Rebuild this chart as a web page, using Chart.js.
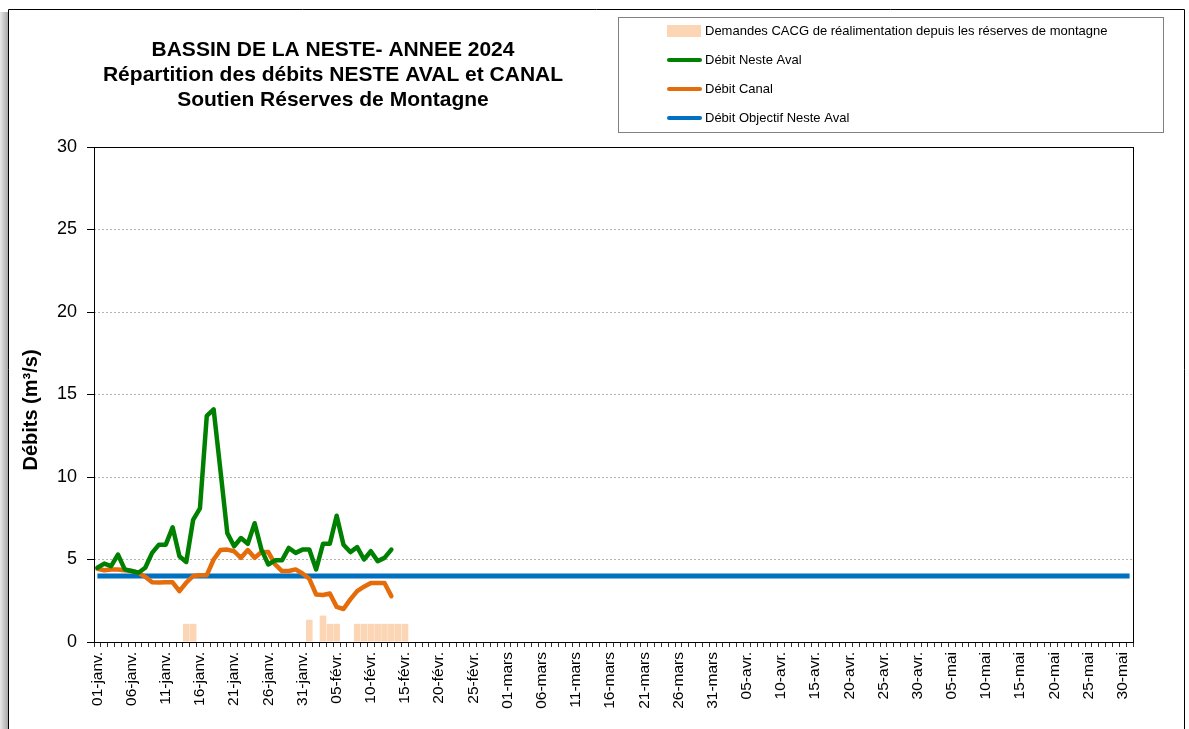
<!DOCTYPE html>
<html>
<head>
<meta charset="utf-8">
<script src="https://cdn.jsdelivr.net/npm/chart.js@4.4.1/dist/chart.umd.min.js"></script>
<style>
  html, body { margin: 0; padding: 0; background: #fff; }
  canvas { display: block; }
</style>
</head>
<body>
<canvas id="chart" width="1189" height="729"></canvas>
<script>
// months of the hydrological window shown (2024 is a leap year)
const months = ['janv.', 'févr.', 'mars', 'avr.', 'mai'];
const monthDays = [31, 29, 31, 30, 31];

const tickLabels = [
  '01-janv.', '06-janv.', '11-janv.', '16-janv.', '21-janv.', '26-janv.', '31-janv.',
  '05-févr.', '10-févr.', '15-févr.', '20-févr.', '25-févr.',
  '01-mars', '06-mars', '11-mars', '16-mars', '21-mars', '26-mars', '31-mars',
  '05-avr.', '10-avr.', '15-avr.', '20-avr.', '25-avr.', '30-avr.',
  '05-mai', '10-mai', '15-mai', '20-mai', '25-mai', '30-mai'
];

const debitNesteAval = [
  4.5, 4.75, 4.6, 5.3, 4.4, 4.3, 4.2, 4.5, 5.4, 5.9,
  5.9, 6.95, 5.2, 4.85, 7.4, 8.1, 13.7, 14.1, 10.4, 6.6,
  5.8, 6.3, 5.95, 7.2, 5.6, 4.7, 4.95, 4.95, 5.7, 5.4,
  5.6, 5.6, 4.4, 5.95, 5.95, 7.65, 5.9, 5.45, 5.75, 5.0,
  5.5, 4.9, 5.1, 5.6
];

const debitCanal = [
  4.44, 4.35, 4.4, 4.4, 4.35, 4.3, 4.2, 3.95, 3.62, 3.6,
  3.62, 3.62, 3.08, 3.6, 4.0, 4.05, 4.05, 5.0, 5.57, 5.6,
  5.5, 5.1, 5.57, 5.1, 5.45, 5.45, 4.7, 4.3, 4.3, 4.4,
  4.15, 3.83, 2.88, 2.85, 2.94, 2.13, 2.0, 2.58, 3.08, 3.35,
  3.58, 3.58, 3.58, 2.78
];

const demandesCACG = [
  null, null, null, null, null, null, null, null, null, null,
  null, null, null, 1.1, 1.1, null, null, null, null, null,
  null, null, null, null, null, null, null, null, null, null,
  null, 1.35, null, 1.6, 1.1, 1.1, null, null, 1.1, 1.1,
  1.1, 1.1, 1.1, 1.1, 1.1, 1.1
];

const objectifDays = ['01-janv.', '31-mai'];
const objectifValues = [4, 4];

const titleLines = [
  'BASSIN DE LA NESTE- ANNEE 2024',
  'Répartition des débits NESTE AVAL et CANAL',
  'Soutien Réserves de Montagne'
];

// build the daily category labels
const categories = [];
months.forEach((m, mi) => {
  for (let d = 1; d <= monthDays[mi]; d++) {
    categories.push(String(d).padStart(2, '0') + '-' + m);
  }
});

const FONT = "'Liberation Sans', Arial, sans-serif";
Chart.defaults.font.family = FONT;
Chart.defaults.color = '#000';

const decor = {
  id: 'decor',
  beforeDraw(chart) {
    const ctx = chart.ctx;
    ctx.save();
    ctx.fillStyle = '#fff';
    ctx.fillRect(0, 0, chart.width, chart.height);
    // left shadow + outer frame
    const g = ctx.createLinearGradient(0, 0, 8, 0);
    g.addColorStop(0, '#e8e8e8');
    g.addColorStop(1, '#a8a8a8');
    ctx.fillStyle = g;
    ctx.fillRect(0, 12, 8, chart.height - 12);
    ctx.strokeStyle = '#000';
    ctx.lineWidth = 1;
    ctx.beginPath();
    ctx.moveTo(8.5, chart.height);
    ctx.lineTo(8.5, 9.5);
    ctx.lineTo(1184.5, 9.5);
    ctx.lineTo(1184.5, chart.height);
    ctx.stroke();

    // title
    ctx.fillStyle = '#000';
    ctx.font = 'bold 21px ' + FONT;
    ctx.textAlign = 'center';
    ctx.textBaseline = 'middle';
    titleLines.forEach((t, i) => ctx.fillText(t, 333, 50 + i * 25));

    // y axis title
    ctx.save();
    ctx.font = 'bold 20px ' + FONT;
    ctx.translate(31, 410);
    ctx.rotate(-Math.PI / 2);
    ctx.fillText('Débits (m³/s)', 0, 0);
    ctx.restore();

    // legend
    ctx.strokeStyle = '#808080';
    ctx.strokeRect(618.5, 17.5, 545, 115);
    ctx.font = '13px ' + FONT;
    ctx.textAlign = 'left';
    const ds = chart.data.datasets;
    ds.forEach((d, row) => {
      const y = 31 + row * 29;
      if (d.type === 'bar') {
        ctx.fillStyle = d.backgroundColor;
        ctx.fillRect(667, y - 6, 34, 12);
      } else {
        ctx.strokeStyle = d.borderColor;
        ctx.lineWidth = 4;
        ctx.lineCap = 'round';
        ctx.beginPath();
        ctx.moveTo(669, y);
        ctx.lineTo(700, y);
        ctx.stroke();
      }
      ctx.fillStyle = '#000';
      ctx.fillText(d.label, 705, y);
    });
    ctx.restore();
  },
  beforeDatasetsDraw(chart) {
    const {ctx, chartArea: a} = chart;
    ctx.save();
    ctx.strokeStyle = '#000';
    ctx.lineWidth = 1;
    ctx.strokeRect(Math.round(a.left) + 0.5, Math.round(a.top) + 0.5,
      Math.round(a.right - a.left), Math.round(a.bottom - a.top));
    ctx.restore();
  }
};

new Chart(document.getElementById('chart'), {
  data: {
    labels: categories,
    datasets: [
      {
        type: 'bar',
        label: 'Demandes CACG de réalimentation depuis les réserves de montagne',
        data: demandesCACG,
        backgroundColor: '#FCD5B5',
        barPercentage: 0.96,
        categoryPercentage: 1.0,
        order: 4
      },
      {
        type: 'line',
        label: 'Débit Neste Aval',
        data: debitNesteAval,
        borderColor: '#008000',
        borderWidth: 4.5,
        pointRadius: 0,
        tension: 0,
        borderJoinStyle: 'round',
        borderCapStyle: 'round',
        order: 1
      },
      {
        type: 'line',
        label: 'Débit Canal',
        data: debitCanal,
        borderColor: '#E46C0A',
        borderWidth: 4.5,
        pointRadius: 0,
        tension: 0,
        borderJoinStyle: 'round',
        borderCapStyle: 'round',
        order: 2
      },
      {
        type: 'line',
        label: 'Débit Objectif Neste Aval',
        data: objectifDays.map((d, i) => ({x: d, y: objectifValues[i]})),
        borderColor: '#0070C0',
        borderWidth: 5,
        pointRadius: 0,
        tension: 0,
        order: 3
      }
    ]
  },
  options: {
    responsive: false,
    animation: false,
    devicePixelRatio: 1,
    layout: { padding: { left: 8, top: 147, right: 56, bottom: 0 } },
    plugins: {
      legend: { display: false },
      title: { display: false },
      tooltip: { enabled: false }
    },
    scales: {
      x: {
        type: 'category',
        offset: true,
        afterFit: (s) => { s.height = 87; },
        grid: {
          offset: true,
          drawOnChartArea: false,
          drawTicks: true,
          tickLength: 5,
          color: '#333'
        },
        border: { display: false },
        ticks: {
          autoSkip: false,
          minRotation: 90,
          maxRotation: 90,
          padding: 5,
          color: '#000',
          font: { size: 15.5 },
          callback: function (value) {
            const lab = this.getLabelForValue(value);
            return tickLabels.includes(lab) ? lab : '';
          }
        }
      },
      y: {
        min: 0,
        max: 30,
        afterFit: (s) => { s.width = 86; },
        grid: {
          color: '#b4b4b4',
          tickColor: '#000',
          tickLength: 7,
          drawTicks: true
        },
        border: { display: false, dash: [2, 2] },
        ticks: {
          stepSize: 5,
          padding: 10,
          color: '#000',
          font: { size: 18 }
        }
      }
    }
  },
  plugins: [decor]
});
</script>
</body>
</html>
